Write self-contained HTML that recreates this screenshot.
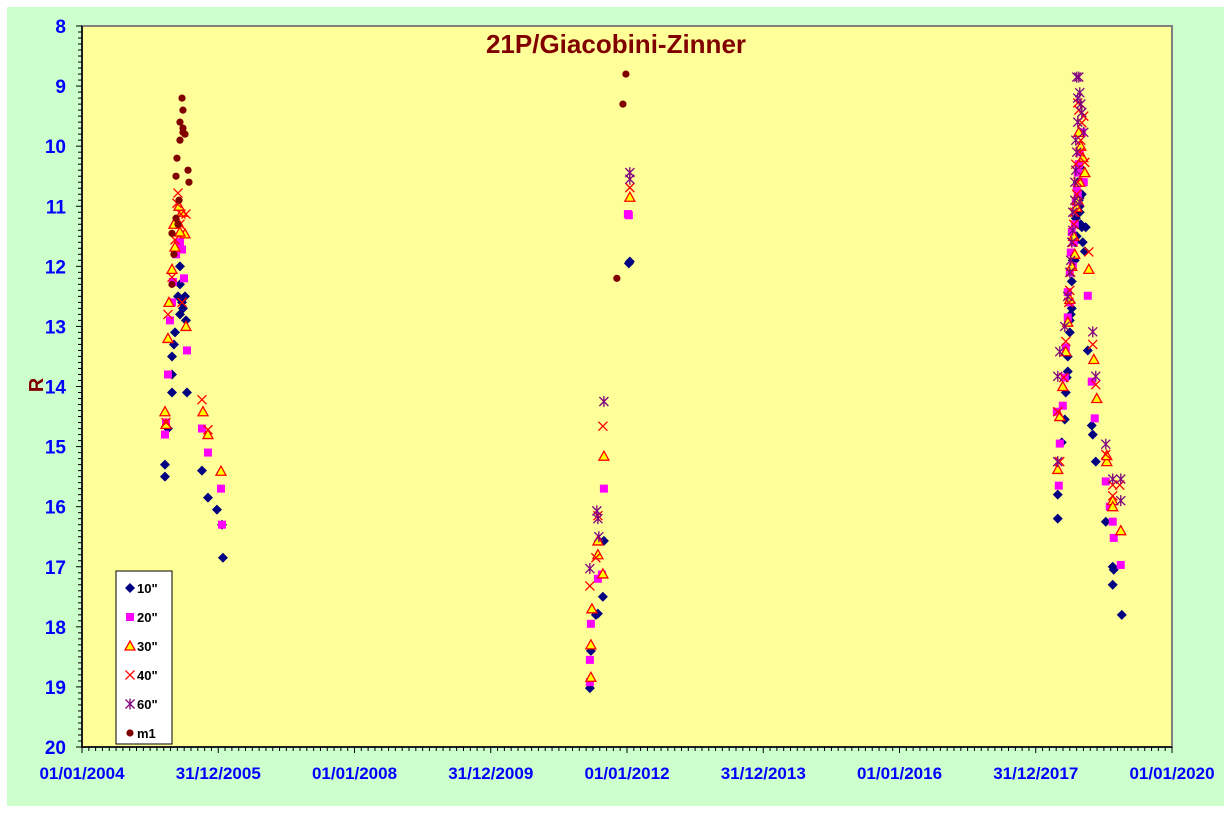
<!DOCTYPE html>
<html><head><meta charset="utf-8"><style>
body{margin:0;background:#fff;width:1231px;height:813px;overflow:hidden}
svg{display:block;font-family:"Liberation Sans",sans-serif}
</style></head><body>
<svg id="chart" width="1231" height="813">
<rect x="7" y="7" width="1217" height="799" fill="#ccffcc"/>
<rect x="82" y="26" width="1090" height="721" fill="#ffff99" stroke="#808080" stroke-width="2"/>
<text x="616" y="53" text-anchor="middle" font-size="26" font-weight="bold" fill="#800000">21P/Giacobini-Zinner</text>
<text x="0" y="0" transform="translate(43,385) rotate(-90)" text-anchor="middle" font-size="20" font-weight="bold" fill="#800000">R</text>
<g id="axes"></g>
<g id="marks"></g>
<g id="legend"></g>
</svg>
<script>
const yTicks=[8,9,10,11,12,13,14,15,16,17,18,19,20];
const xTickYears=[2004,2006,2008,2010,2012,2014,2016,2018,2020];
const xTickLabels=["01/01/2004","31/12/2005","01/01/2008","31/12/2009","01/01/2012","31/12/2013","01/01/2016","31/12/2017","01/01/2020"];
const seriesNames=['10"','20"','30"','40"','60"','m1'];
const s10=[[2005.218,15.5],[2005.218,15.3],[2005.262,14.7],[2005.321,14.1],[2005.321,13.8],[2005.321,13.5],[2005.350,13.3],[2005.365,13.1],[2005.438,12.8],[2005.468,12.6],[2005.409,12.5],[2005.512,12.5],[2005.438,12.0],[2005.438,12.3],[2005.541,14.1],[2005.761,15.4],[2005.849,15.85],[2005.981,16.05],[2006.055,16.3],[2006.069,16.85],[2005.482,12.7],[2005.526,12.9],
[2011.455,19.02],[2011.470,18.4],[2011.573,17.78],[2011.543,17.8],[2011.646,17.5],[2011.661,16.57],[2012.042,11.92],[2012.027,11.95],
[2018.323,16.2],[2018.323,15.8],[2018.382,14.93],[2018.426,14.55],[2018.441,14.1],[2018.455,13.85],[2018.470,13.5],[2018.500,12.9],[2018.514,12.6],[2018.529,12.25],[2018.544,11.9],[2018.573,11.6],[2018.617,11.3],[2018.646,11.1],[2018.676,11.35],[2018.690,11.6],[2018.720,11.75],[2018.734,11.35],[2018.764,13.4],[2018.822,14.65],[2018.837,14.8],[2018.881,15.25],[2019.028,16.25],[2019.130,17.0],[2019.145,17.05],[2019.130,17.3],[2019.263,17.8],[2018.617,10.6],[2018.646,10.35],[2018.500,13.1],[2018.529,12.7],[2018.573,11.9],[2018.602,11.5],[2018.646,11.0],[2018.676,10.8],[2018.470,13.75],[2018.514,12.8],[2018.588,11.2],[2018.661,11.3],[2018.632,10.9]];
const s20=[[2005.218,14.8],[2005.233,14.6],[2005.262,13.8],[2005.291,12.9],[2005.321,12.6],[2005.335,12.26],[2005.380,11.8],[2005.409,11.65],[2005.438,11.6],[2005.468,11.72],[2005.497,12.2],[2005.541,13.4],[2005.761,14.7],[2005.849,15.1],[2006.040,15.7],[2006.055,16.3],
[2011.455,18.55],[2011.455,18.92],[2011.470,17.95],[2011.573,17.2],[2011.631,17.13],[2011.661,15.7],[2012.013,11.13],[2012.027,11.15],
[2018.309,14.42],[2018.353,14.95],[2018.338,15.65],[2018.397,14.32],[2018.426,13.85],[2018.441,13.35],[2018.470,12.85],[2018.470,12.43],[2018.500,12.1],[2018.514,11.77],[2018.529,11.43],[2018.588,10.93],[2018.617,10.44],[2018.646,10.1],[2018.676,9.77],[2018.705,10.6],[2018.764,12.49],[2018.866,14.53],[2018.822,13.92],[2019.028,15.58],[2019.130,16.25],[2019.145,16.52],[2019.248,16.97],[2019.087,16.0],[2018.544,12.0],[2018.573,11.3],[2018.602,10.7],[2018.632,10.3],[2018.690,10.6],[2018.500,12.6],[2018.558,11.6],[2018.617,10.8]];
const s30=[[2005.218,14.42],[2005.233,14.63],[2005.262,13.2],[2005.277,12.6],[2005.321,12.05],[2005.365,11.68],[2005.409,11.27],[2005.468,11.1],[2005.512,11.46],[2005.526,13.0],[2005.776,14.42],[2005.849,14.8],[2006.040,15.41],[2005.438,11.43],[2005.350,11.3],[2005.424,11.0],
[2011.470,18.84],[2011.470,18.3],[2011.485,17.7],[2011.573,16.8],[2011.573,16.57],[2011.646,17.12],[2011.661,15.16],[2012.042,10.85],
[2018.323,15.38],[2018.353,14.5],[2018.397,14.0],[2018.441,13.42],[2018.470,12.93],[2018.500,12.55],[2018.529,12.0],[2018.558,11.5],[2018.602,11.02],[2018.646,10.6],[2018.690,10.19],[2018.720,10.44],[2018.779,12.05],[2018.852,13.55],[2018.896,14.2],[2019.043,15.25],[2019.130,15.9],[2019.248,16.4],[2018.632,9.77],[2018.573,11.8],[2018.617,10.9],[2018.661,10.0],[2019.043,15.15],[2019.130,16.0]];
const s40=[[2005.233,14.6],[2005.262,12.8],[2005.321,12.18],[2005.365,11.56],[2005.409,10.78],[2005.453,11.13],[2005.526,11.13],[2005.761,14.22],[2005.849,14.72],[2005.468,12.6],[2005.394,10.95],[2005.438,11.3],
[2011.455,17.32],[2011.573,16.15],[2011.646,14.66],[2012.042,10.69],[2011.543,16.85],
[2018.323,14.42],[2018.353,15.25],[2018.411,13.85],[2018.441,13.25],[2018.485,12.6],[2018.514,12.1],[2018.544,11.6],[2018.573,11.1],[2018.617,10.6],[2018.646,10.1],[2018.676,9.61],[2018.720,10.27],[2018.779,11.76],[2018.837,13.3],[2018.881,13.97],[2019.028,15.13],[2019.130,15.64],[2019.130,15.82],[2019.233,15.64],[2018.617,9.28],[2018.500,12.4],[2018.558,11.3],[2018.602,10.8],[2018.661,9.9],[2018.705,9.5],[2018.632,9.4],[2018.588,10.3]];
const s60=[[2011.455,17.03],[2011.558,16.07],[2011.573,16.2],[2011.661,14.25],[2012.042,10.44],[2011.587,16.5],[2012.042,10.55],
[2018.323,15.25],[2018.323,13.83],[2018.353,13.42],[2018.426,13.0],[2018.470,12.5],[2018.500,12.1],[2018.529,11.6],[2018.544,11.1],[2018.573,10.6],[2018.602,10.1],[2018.617,9.6],[2018.602,8.85],[2018.646,9.11],[2018.676,9.44],[2018.705,9.77],[2018.646,10.93],[2018.837,13.09],[2018.881,13.83],[2019.028,14.96],[2019.130,15.54],[2019.248,15.54],[2019.248,15.9],[2018.632,8.85],[2018.661,9.3],[2018.588,10.4],[2018.544,11.4],[2018.514,11.9],[2018.588,9.9],[2018.617,9.2],[2018.573,10.9]];
const sm1=[[2005.468,9.2],[2005.482,9.4],[2005.438,9.6],[2005.482,9.7],[2005.512,9.8],[2005.438,9.9],[2005.394,10.2],[2005.556,10.4],[2005.570,10.6],[2005.380,10.5],[2005.424,10.9],[2005.409,11.3],[2005.321,11.45],[2005.350,11.8],[2005.321,12.3],[2005.482,9.77],[2005.380,11.2],
[2011.984,8.8],[2011.940,9.3],[2011.851,12.2]];

const NS="http://www.w3.org/2000/svg";
const X0=82,X1=1172,Y0=26,Y1=747;
function xs(yr){return X0+(yr-2004)/16*(X1-X0);}
function ys(m){return Y0+(m-8)/12*(Y1-Y0);}
function mk(tag,attrs,parent){const e=document.createElementNS(NS,tag);for(const k in attrs)e.setAttribute(k,attrs[k]);parent.appendChild(e);return e;}
const axes=document.getElementById('axes');
let ax=mk('line',{x1:X0,y1:Y0,x2:X0,y2:Y1,stroke:'#000','stroke-width':1.5},axes);


let bx=mk('line',{x1:X0,y1:Y1,x2:X1,y2:Y1,stroke:'#000','stroke-width':1.5},axes);


for(let i=0;i<=120;i++){const m=8+i/10;const y=ys(m);
 const t=mk('line',{x1:(i%10===0?76:78),y1:y,x2:X0,y2:y,stroke:'#000','stroke-width':1},axes);
 
 }
yTicks.forEach(v=>{const t=mk('text',{x:66,y:ys(v)+7,'text-anchor':'end','font-size':19,'font-weight':'bold',fill:'#0000ff'},axes);t.textContent=v;
 
 });
for(let i=0;i<=160;i++){const yr=2004+i/10;const x=xs(yr);
 const t=mk('line',{x1:x,y1:Y1,x2:x,y2:(i%20===0?Y1+6:Y1+4),stroke:'#000','stroke-width':1},axes);
 
 }
xTickYears.forEach((v,i)=>{const t=mk('text',{x:xs(v),y:779,'text-anchor':'middle','font-size':17,'font-weight':'bold',fill:'#0000ff'},axes);t.textContent=xTickLabels[i];
 
 });
function marker(kind,x,y,p){let e;
 if(kind===0)e=mk('polygon',{points:`${x},${y-5} ${x+5},${y} ${x},${y+5} ${x-5},${y}`,fill:'#000080'},p);
 else if(kind===1)e=mk('rect',{x:x-4,y:y-4,width:8,height:8,fill:'#ff00ff'},p);
 else if(kind===2)e=mk('polygon',{points:`${x},${y-5} ${x+5},${y+4} ${x-5},${y+4}`,fill:'#ffff00',stroke:'#ff0000','stroke-width':1.3},p);
 else if(kind===3)e=mk('path',{d:`M${x-4.5},${y-4.5}L${x+4.5},${y+4.5}M${x-4.5},${y+4.5}L${x+4.5},${y-4.5}`,stroke:'#ff0000','stroke-width':1.3,fill:'none'},p);
 else if(kind===4)e=mk('path',{d:`M${x-4.5},${y-4.5}L${x+4.5},${y+4.5}M${x-4.5},${y+4.5}L${x+4.5},${y-4.5}M${x},${y-5.5}L${x},${y+5.5}`,stroke:'#800080','stroke-width':1.3,fill:'none'},p);
 else e=mk('circle',{cx:x,cy:y,r:3.6,fill:'#800000'},p);
 return e;}
const marks=document.getElementById('marks');
const allSeries=[s10,s20,s30,s40,s60,sm1];
const ptNames=['point-10in','point-20in','point-30in','point-40in','point-60in','point-m1'];
allSeries.forEach((s,k)=>{s.forEach(d=>{const e=marker(k,xs(d[0]),ys(d[1]),marks);
 
 });});
const lg=document.getElementById('legend');
const box=mk('rect',{x:116,y:571,width:56,height:173,fill:'#fff',stroke:'#000','stroke-width':1},lg);


seriesNames.forEach((n,k)=>{const y=588+k*29;
 const m=marker(k,130,y,lg);
 
 
 const t=mk('text',{x:137,y:y+5,'font-size':13,'font-weight':'bold',fill:'#000'},lg);t.textContent=n;
 
 });
</script>
</body></html>
